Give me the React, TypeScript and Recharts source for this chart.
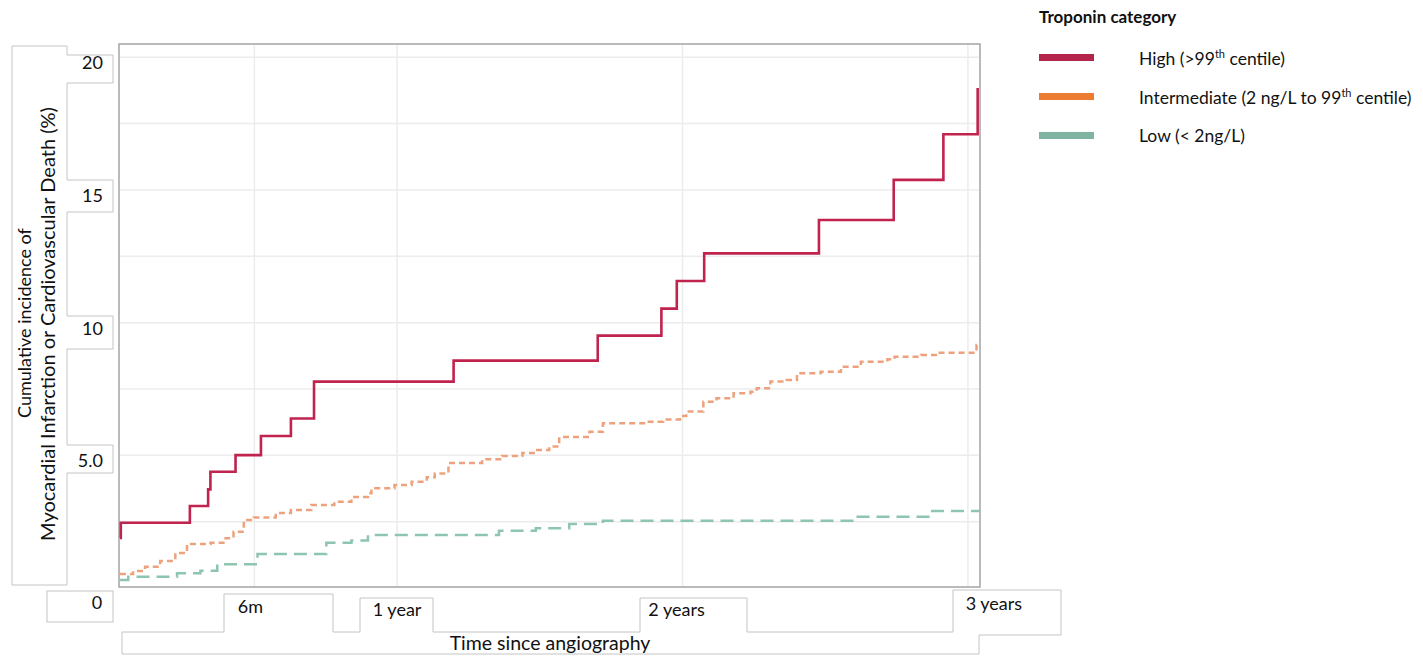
import React from "react";
import { LineChart, Line, XAxis, YAxis, CartesianGrid, ReferenceArea } from "recharts";

// time in years since angiography, cumulative incidence in %
const highYears = [0.029, 0.032, 0.274, 0.338, 0.346, 0.434, 0.523, 0.628, 0.709, 1.198, 1.703, 1.926, 1.98, 2.076, 2.478, 2.74, 2.914, 3.034, 3.0341];
const highValues = [1.89, 2.46, 3.09, 3.72, 4.38, 5.01, 5.73, 6.39, 7.78, 8.57, 9.51, 10.53, 11.57, 12.61, 13.87, 15.38, 17.1, 17.1, 18.84];

const interYears = [0.029, 0.075, 0.117, 0.17, 0.223, 0.264, 0.346, 0.399, 0.427, 0.463, 0.498, 0.575, 0.628, 0.699, 0.78, 0.84, 0.898, 0.91, 0.991, 1.051, 1.104, 1.132, 1.18, 1.298, 1.368, 1.439, 1.485, 1.533, 1.568, 1.674, 1.721, 1.872, 1.932, 1.991, 2.013, 2.073, 2.119, 2.179, 2.238, 2.26, 2.308, 2.365, 2.401, 2.484, 2.555, 2.625, 2.718, 2.743, 2.836, 2.894, 3.03, 3.042];
const interValues = [0.53, 0.64, 0.8, 1.02, 1.32, 1.66, 1.71, 1.88, 2.12, 2.56, 2.66, 2.83, 2.94, 3.13, 3.25, 3.43, 3.57, 3.76, 3.88, 4.01, 4.18, 4.32, 4.71, 4.85, 4.98, 5.09, 5.2, 5.33, 5.69, 5.89, 6.21, 6.27, 6.35, 6.48, 6.65, 7.02, 7.15, 7.34, 7.4, 7.53, 7.78, 7.84, 8.09, 8.15, 8.34, 8.53, 8.62, 8.72, 8.78, 8.87, 9.16, 9.2];

const lowYears = [0.029, 0.058, 0.229, 0.311, 0.37, 0.511, 0.752, 0.84, 0.898, 1.357, 1.486, 1.603, 1.721, 2.607, 2.866, 3.042];
const lowValues = [0.3, 0.43, 0.56, 0.65, 0.9, 1.28, 1.71, 1.79, 2.0, 2.16, 2.25, 2.41, 2.54, 2.69, 2.9, 2.9];

const xTicks = [0.5, 1, 2, 3];
const xTickLabels = ["6m", "1 year", "2 years", "3 years"];
const yTicks = [2.5, 5, 7.5, 10, 12.5, 15, 17.5, 20];
const yLabelled = [5, 10, 15, 20];

const seriesNames = ["High", "Intermediate", "Low"];
const legendParts = [
	["High (>99", "th", " centile)"],
	["Intermediate (2 ng/L to 99", "th", " centile)"],
	["Low (< 2ng/L)", "", ""],
];

const toRows = (xs: number[], ys: number[]) => xs.map((t, i) => ({ t, v: ys[i] }));
const highData = toRows(highYears, highValues);
const interData = toRows(interYears, interValues);
const lowData = toRows(lowYears, lowValues);

const FONT = "Lato, 'Open Sans', sans-serif";
const TEXT = "#111";
const BOX = "#c4c4c4";
const legendColors = ["#b5244b", "#ec7c31", "#7fb4a1"];

const xDomain = [0.0257, 3.0423];
const yDomain = [0.04, 20.5];

const xTickDx: Record<number, number> = { 0.5: -4, 1: 0, 2: -6, 3: 26 };
const xTickDy: Record<number, number> = { 0.5: 19, 1: 22, 2: 22, 3: 16 };

const YTick = (props: any) => {
	const { x, y, payload } = props;
	if (!yLabelled.includes(payload.value)) return null;
	const label = payload.value === 5 ? "5.0" : String(payload.value);
	return (
		<text x={x} y={y + 5} textAnchor="end" dominantBaseline="central" fontFamily={FONT} fontSize={18} fill={TEXT}>
			{label}
		</text>
	);
};

const XTick = (props: any) => {
	const { x, y, payload } = props;
	const i = xTicks.indexOf(payload.value);
	if (i < 0) return null;
	return (
		<text x={x + (xTickDx[payload.value] ?? 0)} y={y + (xTickDy[payload.value] ?? 20)} textAnchor="middle" dominantBaseline="central" fontFamily={FONT} fontSize={18} fill={TEXT}>
			{xTickLabels[i]}
		</text>
	);
};

const LegendBox = () => (
	<div style={{ position: "absolute", left: 1039, top: 0, fontFamily: FONT, color: TEXT }}>
		<div style={{ fontWeight: 700, fontSize: 17, height: 34, lineHeight: "34px", marginBottom: 4 }}>Troponin category</div>
		{seriesNames.map((n, i) => (
			<div key={n} style={{ display: "flex", alignItems: "center", height: 39 }}>
				<div style={{ width: 55, height: 7, background: legendColors[i], marginRight: 45 }} />
				<span style={{ fontSize: 17.5, whiteSpace: "nowrap" }}>
					{legendParts[i][0]}
					{legendParts[i][1] && <sup style={{ fontSize: 11 }}>{legendParts[i][1]}</sup>}
					{legendParts[i][2]}
				</span>
			</div>
		))}
	</div>
);

// decorative text boxes around the axis labels
const leftOutline = "M12,46 L67,46 L67,55 L113,55 L113,83 L67,83 L67,180 L113,180 L113,212 L67,212 L67,316 L113,316 L113,349 L67,349 L67,445 L113,445 L113,473 L67,473 L67,585 L12,585 Z";
const bottomOutline = "M122,632 L224,632 L224,594 L333,594 L333,632 L360,632 L360,598 L433,598 L433,632 L640,632 L640,598 L747,598 L747,632 L953,632 L953,590 L1061,590 L1061,635 L979,635 L979,654 L122,654 Z";

export default function App() {
	return (
		<div style={{ position: "absolute", left: 0, top: 0, width: 1423, height: 656, background: "#fff" }}>
			<svg width={1423} height={656} style={{ position: "absolute", left: 0, top: 0 }}>
				<path d={leftOutline} fill="none" stroke={BOX} strokeWidth={1} />
				<path d={bottomOutline} fill="none" stroke={BOX} strokeWidth={1} />
				<rect x={47} y={591} width={66} height={31} fill="none" stroke={BOX} strokeWidth={1} />
				<text x={97} y={602} textAnchor="middle" dominantBaseline="central" fontFamily={FONT} fontSize={18} fill={TEXT}>0</text>
				<text transform="translate(24,323) rotate(-90)" textAnchor="middle" dominantBaseline="central" fontFamily={FONT} fontSize={18} fill={TEXT}>
					Cumulative incidence of
				</text>
				<text transform="translate(47,324) rotate(-90)" textAnchor="middle" dominantBaseline="central" fontFamily={FONT} fontSize={20} fill={TEXT}>
					Myocardial Infarction or Cardiovascular Death (%)
				</text>
				<text x={550} y={642} textAnchor="middle" dominantBaseline="central" fontFamily={FONT} fontSize={19.5} fill={TEXT}>
					Time since angiography
				</text>
			</svg>
			<div style={{ position: "absolute", left: 0, top: 0 }}>
				<LineChart width={1423} height={656} margin={{ top: 44, right: 443, bottom: 0, left: 0 }}>
					<CartesianGrid stroke="#ececec" strokeWidth={1.5} />
					<XAxis
						type="number"
						dataKey="t"
						domain={xDomain}
						ticks={xTicks}
						allowDataOverflow
						height={69}
						axisLine={false}
						tickLine={false}
						tickSize={0}
						tickMargin={0}
						tick={<XTick />}
						interval={0}
					/>
					<YAxis
						type="number"
						domain={yDomain}
						ticks={yTicks}
						allowDataOverflow
						width={119}
						axisLine={false}
						tickLine={false}
						tickSize={0}
						tickMargin={16}
						tick={<YTick />}
						interval={0}
					/>
					<ReferenceArea x1={xDomain[0]} x2={xDomain[1]} y1={yDomain[0]} y2={yDomain[1]} fill="none" stroke="#a8a8a8" strokeWidth={1.5} ifOverflow="visible" />
					<Line data={lowData} dataKey="v" name={seriesNames[2]} type="stepAfter" stroke="#8dc5af" strokeWidth={2.5} strokeDasharray="13 7" dot={false} isAnimationActive={false} />
					<Line data={interData} dataKey="v" name={seriesNames[1]} type="stepAfter" stroke="#eda27d" strokeWidth={2.5} strokeDasharray="6 4" dot={false} isAnimationActive={false} />
					<Line data={highData} dataKey="v" name={seriesNames[0]} type="stepAfter" stroke="#c0234d" strokeWidth={2.6} dot={false} isAnimationActive={false} />
				</LineChart>
			</div>
			<LegendBox />
		</div>
	);
}
